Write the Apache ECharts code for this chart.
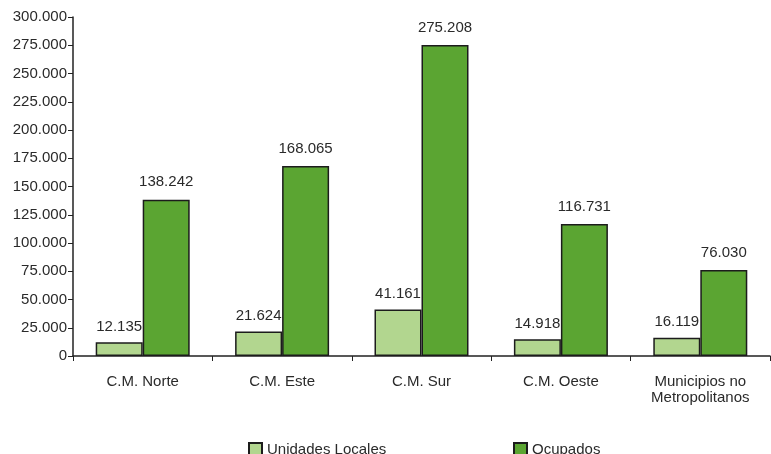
<!DOCTYPE html>
<html><head><meta charset="utf-8">
<script src="https://cdn.jsdelivr.net/npm/echarts@6/dist/echarts.min.js"></script>
<style>html,body{margin:0;padding:0;background:#fff}#c{width:771px;height:454px}</style>
</head><body><div id="c"></div>
<script>
var categories = ['C.M. Norte', 'C.M. Este', 'C.M. Sur', 'C.M. Oeste', 'Municipios no\nMetropolitanos'];
var unidadesLocales = [12135, 21624, 41161, 14918, 16119];
var ocupados = [138242, 168065, 275208, 116731, 76030];
var seriesNames = ['Unidades Locales', 'Ocupados'];

function fmt(v) {
  return String(Math.round(v)).replace(/\B(?=(\d{3})+(?!\d))/g, '.');
}
var font = 'Liberation Sans, Arial, sans-serif';
var chart = echarts.init(document.getElementById('c'));
chart.setOption({
  animation: false,
  textStyle: { fontFamily: font },
  grid: { left: 73, right: 1, top: 17, bottom: 98 },
  legend: [
    { data: [seriesNames[0]], left: 243, top: 437, itemWidth: 13, itemHeight: 13, icon: 'rect',
      textStyle: { fontSize: 15, color: '#2a2a2a', fontFamily: font } },
    { data: [seriesNames[1]], left: 508, top: 437, itemWidth: 13, itemHeight: 13, icon: 'rect',
      textStyle: { fontSize: 15, color: '#2a2a2a', fontFamily: font } }
  ],
  xAxis: {
    type: 'category', data: categories,
    axisLine: { lineStyle: { color: '#222', width: 1.5 } },
    axisTick: { show: true, length: 5, lineStyle: { color: '#222' } },
    axisLabel: { fontSize: 15, color: '#2a2a2a', margin: 18, lineHeight: 16, fontFamily: font }
  },
  yAxis: {
    type: 'value', min: 0, max: 300000, interval: 25000,
    splitLine: { show: false },
    axisLine: { show: true, lineStyle: { color: '#222', width: 1.5 } },
    axisTick: { show: true, length: 5, lineStyle: { color: '#222' } },
    axisLabel: { fontSize: 15, color: '#2a2a2a', margin: 6, formatter: fmt, fontFamily: font }
  },
  series: [
    { name: seriesNames[0], type: 'bar', data: unidadesLocales, barWidth: 47, barGap: '0%',
      itemStyle: { color: '#b2d68f', borderColor: '#1c1c1c', borderWidth: 1.5 },
      label: { show: true, position: 'top', distance: 8, fontSize: 15, color: '#2a2a2a',
        formatter: function(p){ return fmt(p.value); }, fontFamily: font } },
    { name: seriesNames[1], type: 'bar', data: ocupados, barWidth: 47,
      itemStyle: { color: '#5ba532', borderColor: '#1c1c1c', borderWidth: 1.5 },
      label: { show: true, position: 'top', distance: 10, fontSize: 15, color: '#2a2a2a',
        formatter: function(p){ return fmt(p.value); }, fontFamily: font } }
  ]
});
</script></body></html>
